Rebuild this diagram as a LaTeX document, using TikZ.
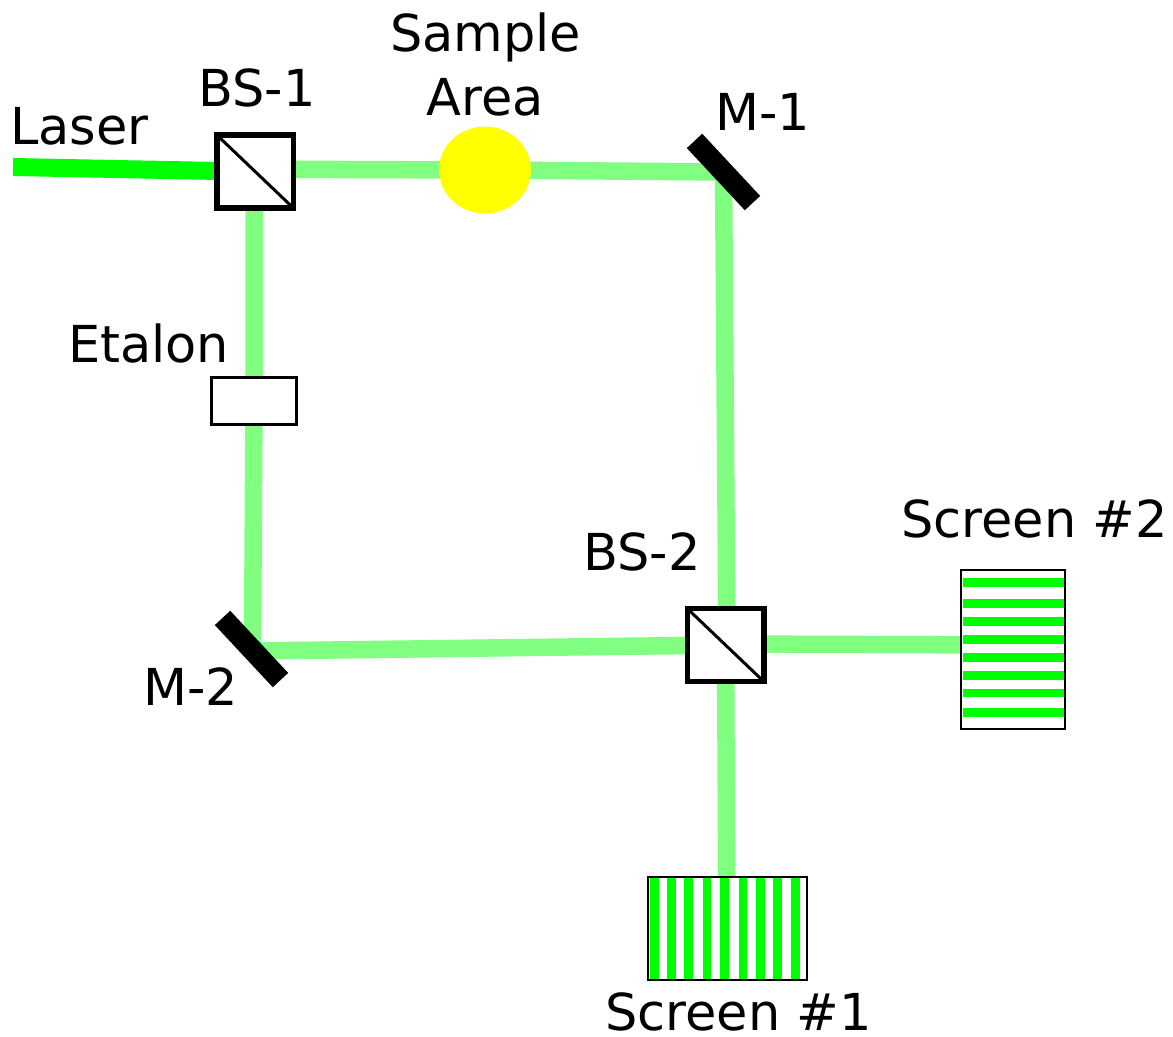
\documentclass[tikz,border=0pt]{standalone}
\usepackage{fontspec}
\setmainfont{DejaVu Sans}
\usetikzlibrary{backgrounds,shapes.geometric}
\newcommand{\pxu}{0.75pt}
\definecolor{beamfull}{HTML}{00FF00}
\definecolor{beamsoft}{HTML}{80FF80}
\definecolor{samplefill}{HTML}{FFFF00}
\tikzset{
  lab/.style={anchor=base west,inner sep=0pt,font=\fontsize{38.2pt}{48pt}\selectfont},
  cube/.style={draw=black,fill=white,line width=5.5*\pxu,minimum width=76.5*\pxu,minimum height=73*\pxu,inner sep=0pt,outer sep=0pt},
  cubediag/.style={draw=black,line width=3*\pxu},
  beamin/.style={draw=beamfull,line width=18*\pxu},
  beam/.style={draw=beamsoft,line width=17.5*\pxu},
  mirror/.style={fill=black,minimum width=85*\pxu,minimum height=21*\pxu,inner sep=0pt,outer sep=0pt,rotate=-47},
  etalonbox/.style={draw=black,fill=white,line width=3*\pxu,minimum width=85.5*\pxu,minimum height=47*\pxu,inner sep=0pt,outer sep=0pt},
  samplespot/.style={ellipse,fill=samplefill,minimum width=92*\pxu,minimum height=87*\pxu,inner sep=0pt,outer sep=0pt},
  screenbox/.style={draw=black,fill=white,line width=2*\pxu,inner sep=0pt,outer sep=0pt},
  fringe/.style={draw=beamfull,line width=8.5*\pxu},
}
\begin{document}
\begin{tikzpicture}[x=\pxu,y=-\pxu]
\useasboundingbox (0,0) rectangle (1173,1036);
% elements
\coordinate (src) at (13,167);
\node[cube] (bs1) at (255.3,171.7) {};
\node[samplespot] (sample) at (485,170) {};
\node[mirror] (m1) at (723.5,172) {};
\node[etalonbox] (etalon) at (254,400.5) {};
\node[mirror] (m2) at (251.5,649) {};
\node[cube] (bs2) at (725.5,645) {};
\node[screenbox,minimum width=158.5*\pxu,minimum height=103.5*\pxu] (scr1) at (727.7,928.5) {};
\node[screenbox,minimum width=104*\pxu,minimum height=159.5*\pxu] (scr2) at (1013,649.5) {};
\draw[cubediag] (bs1.north west) -- (bs1.south east);
\draw[cubediag] (bs2.north west) -- (bs2.south east);
% beams under the elements
\begin{scope}[on background layer]
\draw[beamin] (src) -- (bs1.center);
\draw[beam] ([yshift=2.5*\pxu]bs1.center) -- (sample.center);
\draw[beam] (sample.center) -- (m1.center);
\draw[beam] (m1.center) -- ([xshift=1.5*\pxu]bs2.center);
\draw[beam] ([xshift=-1.2*\pxu]bs1.center) -- (etalon.center);
\draw[beam] (etalon.center) -- ([xshift=1*\pxu]m2.center);
\draw[beam] ([yshift=-2*\pxu]m2.center) -- (bs2.center);
\draw[beam] ([yshift=1*\pxu]bs2.center) -- (scr2.center |- bs2.center);
\draw[beam] (bs2.center) -- ([xshift=-1*\pxu]scr1.north);
\end{scope}
% fringes
\foreach \fx in {654.7,671.7,688.7,707,724.3,743,760.3,777.7,795.7}
  \draw[fringe] (\fx,878) -- (\fx,979);
\foreach \fy in {582.7,603.7,621.3,639.7,657.7,675.7,693,712.3}
  \draw[fringe] (963,\fy) -- (1064,\fy);
% labels
\node[lab] (tLaser) at (10,144) {Laser};
\node[lab] (tBSa) at (198,106) {BS-1};
\node[lab,anchor=center,align=center] (tSample) at (485.5,65) {Sample\\Area};
\node[lab] (tMa) at (715,130) {M-1};
\node[lab] (tEtalon) at (68,362) {Etalon};
\node[lab] (tMb) at (143,705) {M-2};
\node[lab] (tBSb) at (583,570) {BS-2};
\node[lab] (tScrb) at (901,537) {Screen \#2};
\node[lab] (tScra) at (605,1030) {Screen \#1};
\end{tikzpicture}
\end{document}
